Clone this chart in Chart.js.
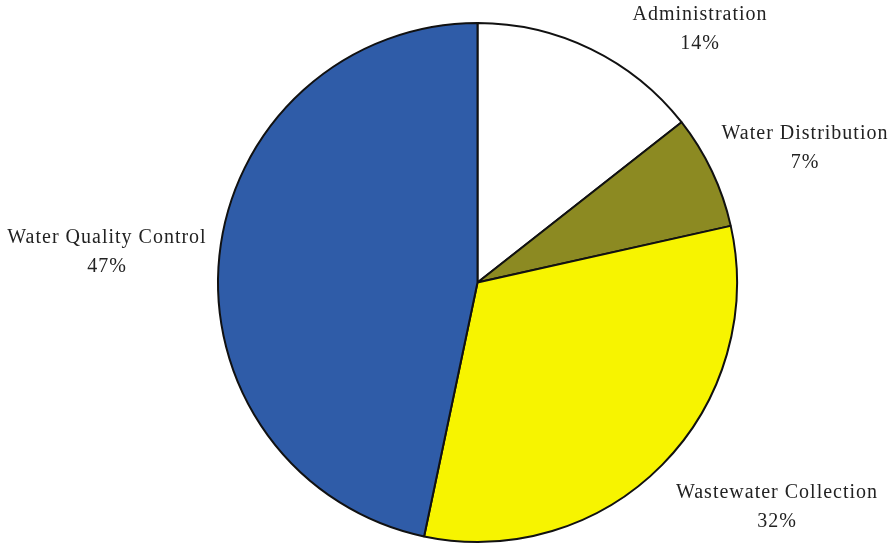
<!DOCTYPE html>
<html>
<head>
<meta charset="utf-8">
<script src="https://cdn.jsdelivr.net/npm/chart.js@4/dist/chart.umd.min.js"></script>
<style>
  html, body { margin: 0; padding: 0; background: #ffffff; }
  #wrap { width: 893px; height: 546px; }
</style>
</head>
<body>
<div id="wrap"><canvas id="pieChart" width="893" height="546"></canvas></div>
<script>
    // Department share of budget, clockwise from 12 o'clock
    // (slice sizes read from the drawn angles; labels show rounded percent)
    const categories = ['Administration', 'Water Distribution', 'Wastewater Collection', 'Water Quality Control'];
    const shares = [14.4, 7.1, 31.8, 46.7];
    const sliceColors = ['#ffffff', '#8c8a22', '#f7f400', '#2f5ca8'];

    // Label anchor points (centre of first line) per slice
    const labelPos = [
        { x: 700, y: 15 },
        { x: 805, y: 134 },
        { x: 777, y: 493 },
        { x: 107, y: 238 }
    ];

    const sliceLabels = {
        id: 'sliceLabels',
        afterDraw(chart) {
            const ctx = chart.ctx;
            const total = shares.reduce((a, b) => a + b, 0);
            ctx.save();
            ctx.fillStyle = '#222222';
            ctx.font = '20px "Liberation Serif", "Times New Roman", serif';
            ctx.textAlign = 'center';
            ctx.textBaseline = 'middle';
            if ('letterSpacing' in ctx) ctx.letterSpacing = '1px';
            categories.forEach((name, i) => {
                const p = labelPos[i];
                ctx.fillText(name, p.x, p.y);
                ctx.fillText(Math.round(shares[i] / total * 100) + '%', p.x, p.y + 29);
            });
            ctx.restore();
        }
    };

    new Chart(document.getElementById('pieChart'), {
        type: 'pie',
        data: {
            labels: categories,
            datasets: [{
                data: shares,
                backgroundColor: sliceColors,
                borderColor: '#111111',
                borderWidth: 2,
                borderAlign: 'center'
            }]
        },
        options: {
            responsive: false,
            animation: false,
            layout: {
                padding: { top: 22, bottom: 3, left: 217, right: 155 }
            },
            plugins: {
                legend: { display: false },
                tooltip: { enabled: false }
            }
        },
        plugins: [sliceLabels]
    });
</script>
</body>
</html>
